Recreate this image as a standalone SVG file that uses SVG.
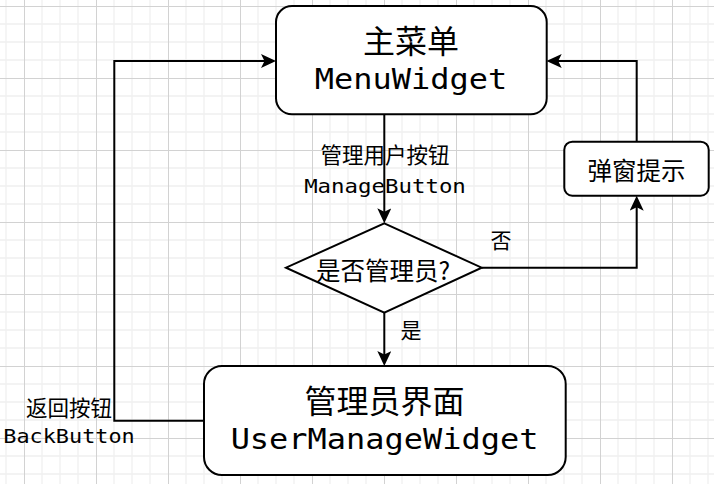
<svg xmlns="http://www.w3.org/2000/svg" width="714" height="484" viewBox="0 0 714 484">
<defs>
<pattern id="grid" x="24" y="6" width="72" height="72" patternUnits="userSpaceOnUse">
<path d="M18 0V72M36 0V72M54 0V72M0 18H72M0 36H72M0 54H72" stroke="#f0f0f0" stroke-width="1.3" fill="none"/>
<path d="M0.5 0V72M0 0.5H72" stroke="#d2d2d2" stroke-width="1" fill="none"/>
</pattern>
<marker id="arrow" viewBox="0 0 15 14" markerWidth="15" markerHeight="14" refX="11" refY="7" orient="auto" markerUnits="userSpaceOnUse">
<path d="M0,0 L15,7 L0,14 L3.5,7 Z" fill="#000"/>
</marker>
<style>
.node{fill:#fff;stroke:#000;stroke-width:2}
.edge{fill:none;stroke:#000;stroke-width:2;marker-end:url(#arrow)}
.cjk{font-family:"Noto Sans CJK SC","Noto Sans",sans-serif;fill:#000;text-anchor:middle}
.mono{font-family:"DejaVu Sans Mono","Liberation Mono",monospace;fill:#000;text-anchor:middle}
</style>
</defs>
<rect width="714" height="484" fill="#fff"/>
<rect width="714" height="484" fill="url(#grid)"/>

<g id="connectors">
<path class="edge" d="M384.3,114.3 V219.3"/>
<path class="edge" d="M384.3,312.7 V362"/>
<path class="edge" d="M204,420.7 H114.3 V61 H272"/>
<path class="edge" d="M481.7,267.7 H636.7 V199.7"/>
<path class="edge" d="M636.7,141.7 V61 H550.7"/>
<text class="cjk" x="385" y="163" font-size="21.5">管理用户按钮</text>
<text class="mono" transform="translate(385,192.5) scale(1.12,1)" font-size="20">ManageButton</text>
<text class="cjk" x="501" y="248" font-size="21">否</text>
<text class="cjk" x="411" y="338" font-size="21">是</text>
<text class="cjk" x="69" y="416" font-size="21.5">返回按钮</text>
<text class="mono" transform="translate(69,443) scale(1.12,1)" font-size="19.5">BackButton</text>
</g>

<g id="menu">
<rect class="node" x="276" y="6" width="270.7" height="108.3" rx="16" ry="16"/>
<text class="cjk" x="411" y="53" font-size="32">主菜单</text>
<text class="mono" transform="translate(411,88.5) scale(1.15,1)" font-size="27.8">MenuWidget</text>
</g>

<g id="decision">
<polygon class="node" points="384.3,223.3 481.7,267.7 384.3,312.7 286,267.7"/>
<text class="cjk" x="383" y="280" font-size="24.5">是否管理员?</text>
</g>

<g id="popup">
<rect class="node" x="564.3" y="141.7" width="144.4" height="54" rx="8" ry="8"/>
<text class="cjk" x="636.5" y="180" font-size="24.5">弹窗提示</text>
</g>

<g id="usermanage">
<rect class="node" x="204" y="366" width="361.7" height="109" rx="18" ry="18"/>
<text class="cjk" x="384.5" y="413" font-size="32">管理员界面</text>
<text class="mono" transform="translate(384.5,449) scale(1.15,1)" font-size="27.8">UserManageWidget</text>
</g>
</svg>
